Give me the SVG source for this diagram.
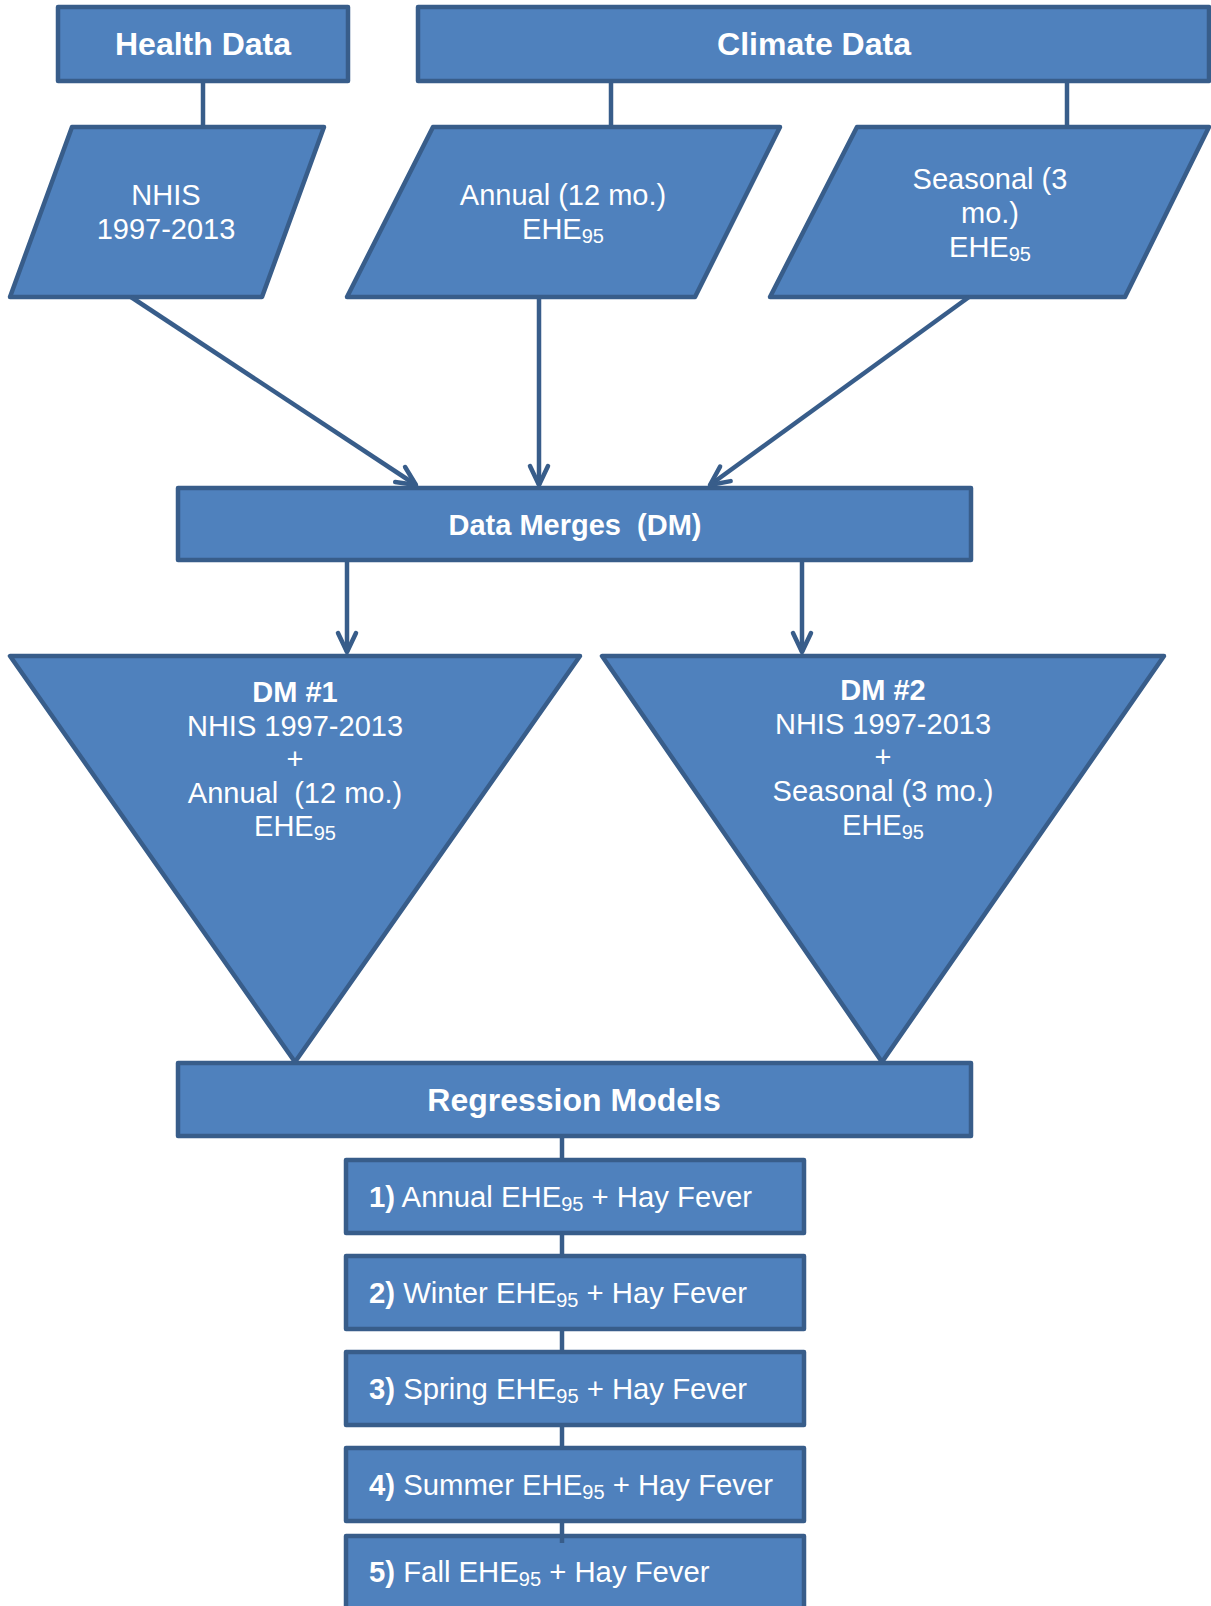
<svg xmlns="http://www.w3.org/2000/svg" width="1211" height="1606" viewBox="0 0 1211 1606">
<defs>
<style>
.n{fill:#4F81BD;stroke:#385D8A;stroke-width:4.5;stroke-linejoin:round}
.c{stroke:#385D8A;stroke-width:4.5;fill:none}
text{font-family:"Liberation Sans",Arial,sans-serif;fill:#FFFFFF;white-space:pre}
.b{font-weight:bold}
.t{font-size:29px;text-anchor:middle}
.s{font-size:20px}
.m{font-size:29.3px}
</style>
<marker id="ah" viewBox="-22 -12 26 24" refX="0" refY="0" markerWidth="26" markerHeight="24" markerUnits="userSpaceOnUse" orient="auto">
<path d="M-19,-9 L0,0 L-19,9" fill="none" stroke="#385D8A" stroke-width="4.5" stroke-linecap="round" stroke-linejoin="round"/>
</marker>
</defs>

<g id="health">
<rect class="n" x="58" y="7" width="290" height="74"/>
<text class="b" x="203" y="55" font-size="32" text-anchor="middle">Health Data</text>
</g>
<g id="climate">
<rect class="n" x="418" y="7" width="791" height="74"/>
<text class="b" x="814" y="55" font-size="32" text-anchor="middle">Climate Data</text>
</g>
<g id="nhis">
<polygon class="n" points="72,127 324,127 262,297 10,297"/>
<text class="t" x="166" y="205">NHIS</text>
<text class="t" x="166" y="239">1997-2013</text>
</g>
<g id="annual">
<polygon class="n" points="433,127 780,127 695,297 347,297"/>
<text class="t" x="563" y="205">Annual (12 mo.)</text>
<text class="t" x="563" y="239">EHE<tspan class="s" dy="4">95</tspan></text>
</g>
<g id="seasonal">
<polygon class="n" points="857,127 1209,127 1125,297 770,297"/>
<text class="t" x="990" y="189">Seasonal (3</text>
<text class="t" x="990" y="223">mo.)</text>
<text class="t" x="990" y="257">EHE<tspan class="s" dy="4">95</tspan></text>
</g>
<g id="merges">
<rect class="n" x="178" y="488" width="793" height="72"/>
<text class="b" x="575" y="535" font-size="29" text-anchor="middle">Data Merges  (DM)</text>
</g>
<g id="dm1">
<polygon class="n" points="10,656 580,656 295,1062"/>
<text class="t b" x="295" y="702">DM #1</text>
<text class="t" x="295" y="736">NHIS 1997-2013</text>
<text class="t" x="295" y="769">+</text>
<text class="t" x="295" y="803">Annual  (12 mo.)</text>
<text class="t" x="295" y="836">EHE<tspan class="s" dy="4">95</tspan></text>
</g>
<g id="dm2">
<polygon class="n" points="602,656 1164,656 882,1062"/>
<text class="t b" x="883" y="700">DM #2</text>
<text class="t" x="883" y="734">NHIS 1997-2013</text>
<text class="t" x="883" y="767">+</text>
<text class="t" x="883" y="801">Seasonal (3 mo.)</text>
<text class="t" x="883" y="835">EHE<tspan class="s" dy="4">95</tspan></text>
</g>
<g id="regression">
<rect class="n" x="178" y="1063" width="793" height="73"/>
<text class="b" x="574" y="1111" font-size="32" text-anchor="middle">Regression Models</text>
</g>
<g id="model1">
<rect class="n" x="346" y="1160" width="458" height="73"/>
<text class="m" x="369" y="1207"><tspan class="b">1)</tspan> Annual EHE<tspan class="s" dy="4">95</tspan><tspan dy="-4"> + Hay Fever</tspan></text>
</g>
<g id="model2">
<rect class="n" x="346" y="1256" width="458" height="73"/>
<text class="m" x="369" y="1303"><tspan class="b">2)</tspan> Winter EHE<tspan class="s" dy="4">95</tspan><tspan dy="-4"> + Hay Fever</tspan></text>
</g>
<g id="model3">
<rect class="n" x="346" y="1352" width="458" height="73"/>
<text class="m" x="369" y="1399"><tspan class="b">3)</tspan> Spring EHE<tspan class="s" dy="4">95</tspan><tspan dy="-4"> + Hay Fever</tspan></text>
</g>
<g id="model4">
<rect class="n" x="346" y="1448" width="458" height="73"/>
<text class="m" x="369" y="1495"><tspan class="b">4)</tspan> Summer EHE<tspan class="s" dy="4">95</tspan><tspan dy="-4"> + Hay Fever</tspan></text>
</g>
<g id="model5">
<rect class="n" x="346" y="1536" width="458" height="80"/>
<text class="m" x="369" y="1582"><tspan class="b">5)</tspan> Fall EHE<tspan class="s" dy="4">95</tspan><tspan dy="-4"> + Hay Fever</tspan></text>
</g>

<g id="connectors">
<line class="c" x1="203" y1="81" x2="203" y2="127"/>
<line class="c" x1="611" y1="81" x2="611" y2="127"/>
<line class="c" x1="1067" y1="81" x2="1067" y2="127"/>
<line class="c" x1="131" y1="297" x2="416" y2="485" marker-end="url(#ah)"/>
<line class="c" x1="539" y1="297" x2="539" y2="485" marker-end="url(#ah)"/>
<line class="c" x1="969" y1="297" x2="710" y2="485" marker-end="url(#ah)"/>
<line class="c" x1="347" y1="560" x2="347" y2="652" marker-end="url(#ah)"/>
<line class="c" x1="802" y1="560" x2="802" y2="652" marker-end="url(#ah)"/>
<line class="c" x1="562" y1="1136" x2="562" y2="1160"/>
<line class="c" x1="562" y1="1233" x2="562" y2="1256"/>
<line class="c" x1="562" y1="1329" x2="562" y2="1352"/>
<line class="c" x1="562" y1="1425" x2="562" y2="1448"/>
<line class="c" x1="562" y1="1521" x2="562" y2="1543"/>
</g>
</svg>
